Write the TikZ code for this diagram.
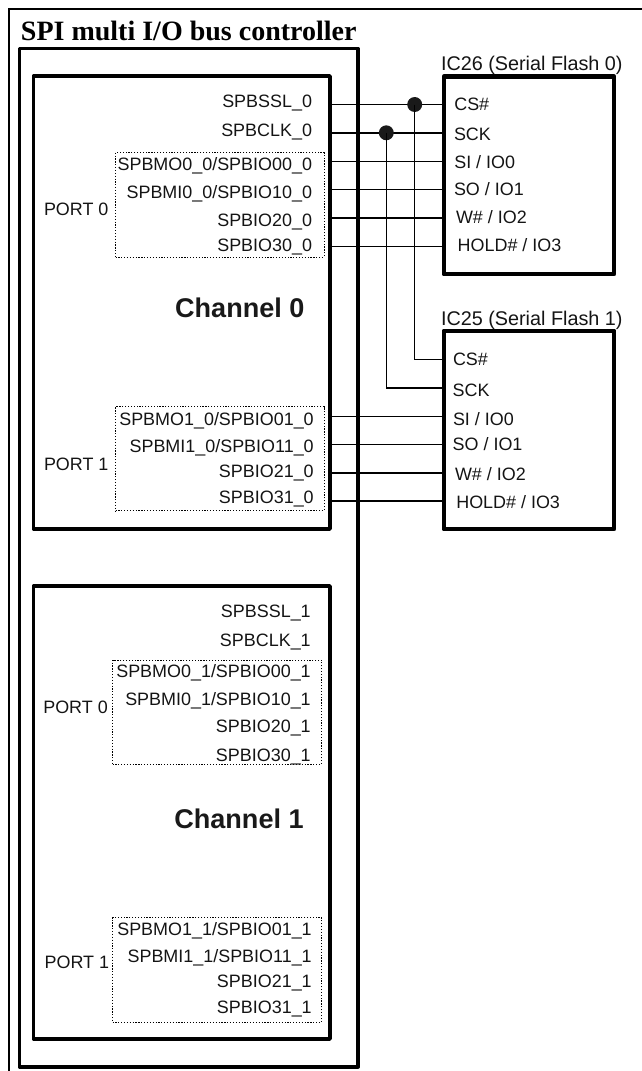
\documentclass[tikz,border=0pt]{standalone}
\usepackage{fontspec}
\setmainfont{Liberation Sans}
\newfontfamily\titlefont{Liberation Serif}
\newcommand{\boxnode}[6]{%
  \pgfmathsetmacro{\bw}{(#5-#3)*0.75}%
  \pgfmathsetmacro{\bh}{(#6-#4)*0.75}%
  \node[#2,minimum width=\bw pt,minimum height=\bh pt] (#1) at ({(#3+#5)/2},{(#4+#6)/2}) {};%
}
\tikzset{
  thickbox/.style={draw=black,line width=2.8pt,line join=round,inner sep=0pt,outer sep=0pt},
  chipbox/.style={draw=black,line width=3.7pt,line join=round,inner sep=0pt,outer sep=0pt},
  portbox/.style={draw=black,line width=0.75pt,dash pattern=on 0.9pt off 1.25pt,inner sep=0pt,outer sep=0pt},
  txt/.style={inner sep=0pt,outer sep=0pt,font=\fontsize{13.45}{16}\selectfont,text=black!92},
  sig/.style={txt,anchor=base east},
  pin/.style={txt,anchor=base west},
  chan/.style={inner sep=0pt,outer sep=0pt,anchor=base,font=\fontsize{20.3}{24}\selectfont\bfseries,text=black!90},
  wire/.style={draw=black,line width=1.15pt},
  jdot/.style={circle,fill=black!90,minimum size=11.2pt,inner sep=0pt,outer sep=0pt}
}
\begin{document}
\begin{tikzpicture}[x=0.75pt,y=-0.75pt]
\useasboundingbox (0,0) rectangle (642,1071);
% outer frame
\coordinate (frameTR) at (642,9);
\coordinate (frameTL) at (9,9);
\coordinate (frameBL) at (9,1071);
\draw[black,line width=2pt] (frameTR) -- (frameTL) -- (frameBL);
\node[inner sep=0pt,outer sep=0pt,anchor=base west,font=\titlefont\fontsize{21}{24}\selectfont\bfseries] (title) at (21,40.7) {SPI multi I/O bus controller};
% boxes
\boxnode{ctrl}{thickbox}{19.5}{48.5}{358}{1066.7}
\boxnode{ch0}{thickbox}{33.5}{76}{330}{529}
\boxnode{ch1}{thickbox}{33.5}{586}{330}{1039}
\boxnode{p00}{portbox}{115.5}{152.5}{324}{257}
\boxnode{p01}{portbox}{115.5}{406.7}{324}{510.7}
\boxnode{p10}{portbox}{112.5}{660}{321.5}{764}
\boxnode{p11}{portbox}{112.5}{917.5}{321.5}{1022}
\boxnode{ic26}{chipbox}{444}{76.7}{614}{274}
\boxnode{ic25}{chipbox}{444}{331}{614}{529}
% titles
\node[chan] (chan0) at (239.8,317.7) {Channel 0};
\node[chan] (chan1) at (239,828) {Channel 1};
\node[txt,anchor=base west,font=\fontsize{14.85}{17}\selectfont] (ic26t) at (441,70.7) {IC26 (Serial Flash 0)};
\node[txt,anchor=base west,font=\fontsize{14.85}{17}\selectfont] (ic25t) at (441,325) {IC25 (Serial Flash 1)};
% channel 0 signals
\node[sig] (a1) at (312,107) {SPBSSL\_0};
\node[sig] (a2) at (312,136.5) {SPBCLK\_0};
\node[sig] (a3) at (312,170.5) {SPBMO0\_0/SPBIO00\_0};
\node[sig] (a4) at (312,198.3) {SPBMI0\_0/SPBIO10\_0};
\node[sig] (a5) at (312,226.7) {SPBIO20\_0};
\node[sig] (a6) at (312,251.7) {SPBIO30\_0};
\node[txt,anchor=base west] (port00) at (44,215) {PORT 0};
\node[sig] (b3) at (313.7,425) {SPBMO1\_0/SPBIO01\_0};
\node[sig] (b4) at (313.7,452.3) {SPBMI1\_0/SPBIO11\_0};
\node[sig] (b5) at (313.7,477.7) {SPBIO21\_0};
\node[sig] (b6) at (313.7,503.3) {SPBIO31\_0};
\node[txt,anchor=base west] (port01) at (44,470) {PORT 1};
% channel 1 signals
\node[sig] (c1) at (310.7,617.3) {SPBSSL\_1};
\node[sig] (c2) at (310.7,646.7) {SPBCLK\_1};
\node[sig] (c3) at (310.7,677.3) {SPBMO0\_1/SPBIO00\_1};
\node[sig] (c4) at (310.7,705.3) {SPBMI0\_1/SPBIO10\_1};
\node[sig] (c5) at (310.7,732.3) {SPBIO20\_1};
\node[sig] (c6) at (310.7,761.7) {SPBIO30\_1};
\node[txt,anchor=base west] (port10) at (43.3,713.3) {PORT 0};
\node[sig] (d3) at (311.7,935) {SPBMO1\_1/SPBIO01\_1};
\node[sig] (d4) at (311.7,962.3) {SPBMI1\_1/SPBIO11\_1};
\node[sig] (d5) at (311.7,987.3) {SPBIO21\_1};
\node[sig] (d6) at (311.7,1013) {SPBIO31\_1};
\node[txt,anchor=base west] (port11) at (44.7,968.3) {PORT 1};
% IC26 pins
\node[pin] (p1) at (454.3,110) {CS\#};
\node[pin] (p2) at (454,140) {SCK};
\node[pin] (p3) at (454.3,168.3) {SI / IO0};
\node[pin] (p4) at (454,195) {SO / IO1};
\node[pin] (p5) at (456,223.3) {W\# / IO2};
\node[pin] (p6) at (457.7,251.7) {HOLD\# / IO3};
% IC25 pins
\node[pin] (q1) at (453,365.7) {CS\#};
\node[pin] (q2) at (452.7,396) {SCK};
\node[pin] (q3) at (453,425) {SI / IO0};
\node[pin] (q4) at (452.7,450.7) {SO / IO1};
\node[pin] (q5) at (455,480) {W\# / IO2};
\node[pin] (q6) at (456.3,508.3) {HOLD\# / IO3};
% wire ends
\foreach \n/\y in {1/104.5,2/132.8,3/161.6,4/189.7,5/218,6/246.3}{
  \coordinate (s\n) at (ch0.east |- 0,\y);
  \coordinate (t\n) at (ic26.west |- 0,\y);
}
\foreach \n/\y in {3/416.3,4/444.6,5/473,6/501.2}{
  \coordinate (u\n) at (ch0.east |- 0,\y);
  \coordinate (v\n) at (ic25.west |- 0,\y);
}
\coordinate (v1) at (ic25.west |- 0,359.7);
\coordinate (v2) at (ic25.west |- 0,388);
\foreach \n in {1,...,6}{\draw[wire] (s\n) -- (t\n);}
\foreach \n in {3,...,6}{\draw[wire] (u\n) -- (v\n);}
\node[jdot] (j1) at (414.7,104.5) {};
\node[jdot] (j2) at (386.3,132.8) {};
\draw[wire,line join=miter] (j1.center) |- (v1);
\draw[wire,line join=miter] (j2.center) |- (v2);
\end{tikzpicture}
\end{document}
